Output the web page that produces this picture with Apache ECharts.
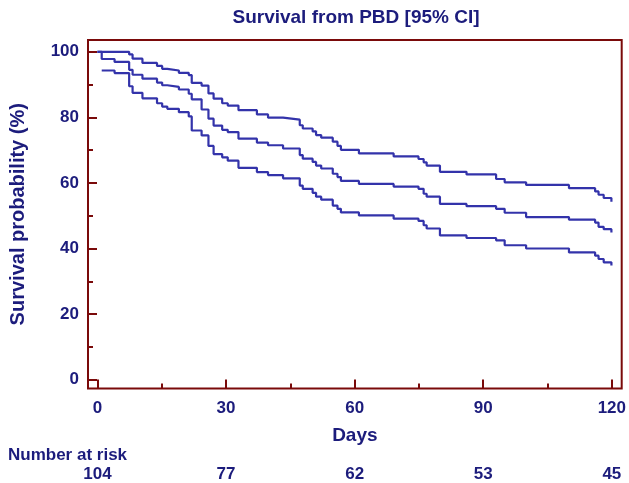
<!DOCTYPE html>
<html>
<head>
<meta charset="utf-8">
<script src="https://cdn.jsdelivr.net/npm/echarts@6/dist/echarts.min.js"></script>
<style>
html,body{margin:0;padding:0;background:#fff;}
#chart{width:629px;height:483px;}
</style>
</head>
<body>
<div id="chart"></div>
<script>
// ---- data ----
const days = [0, 1, 4, 7.4, 8.2, 10.5, 13.9, 15.1, 16.3, 19.0, 21.3, 22.0, 24.3, 25.9, 27.1, 29.1, 30.4, 32.9, 37.2, 39.8, 43.3, 47.2, 47.9, 50.2, 51.0, 52.2, 54.9, 56.0, 56.8, 61.0, 69.1, 74.9, 76.1, 76.8, 79.9, 86.1, 93.0, 95.0, 100.0, 110.0, 116.1, 116.9, 118.1, 119.9];
const upperCI = [100, 100, 100, 99.2, 97.9, 96.6, 95.7, 94.8, 94.3, 93.6, 92.9, 90.5, 89.7, 87.3, 85.7, 84.3, 83.6, 82.2, 80.9, 79.9, 79.3, 77.6, 76.6, 75.7, 74.6, 73.8, 72.6, 71.3, 70.1, 69.0, 68.1, 67.3, 66.3, 65.3, 63.4, 62.6, 61.2, 60.2, 59.4, 58.4, 57.4, 56.4, 55.4, 54.3];
const survival = [100, 97.8, 96.9, 94.5, 93.0, 91.8, 90.6, 89.8, 89.3, 88.5, 87.2, 85.5, 82.4, 79.6, 77.5, 76.2, 75.5, 73.5, 72.3, 71.5, 70.5, 68.5, 67.4, 66.4, 65.3, 64.4, 62.8, 61.8, 60.6, 59.7, 58.9, 58.2, 56.7, 55.8, 53.6, 52.9, 52.1, 50.9, 49.6, 48.8, 47.9, 46.6, 45.9, 44.9];
const lowerCI = [null, 94.3, 93.5, 89.5, 87.5, 85.8, 84.3, 83.3, 82.6, 81.6, 80.3, 76.0, 74.5, 71.3, 68.8, 67.8, 66.8, 64.6, 63.3, 62.4, 61.4, 59.2, 58.2, 57.0, 55.8, 54.9, 53.1, 52.1, 51.0, 50.1, 49.1, 48.4, 47.1, 46.1, 44.0, 43.2, 42.5, 41.0, 40.0, 38.8, 37.8, 36.8, 35.8, 34.8];
const xTicks = [0, 30, 60, 90, 120];
const xMinorTicks = [15, 45, 75, 105];
const yTicks = [0, 20, 40, 60, 80, 100];
const yMinorTicks = [10, 30, 50, 70, 90];
const riskDays = [0, 30, 60, 90, 120];
const riskCounts = [104, 77, 62, 53, 45];
const chartTitle = 'Survival from PBD [95% CI]';
const xName = 'Days';
const yName = 'Survival probability (%)';
const riskTitle = 'Number at risk';

// ---- styling ----
const navy = '#1c1c7c';
const frame = '#7a0a0a';
const lineColor = '#3333aa';
const font = "'Liberation Sans', Arial, sans-serif";
const xMin = -2.2, xMax = 122.3, yMin = -2.7, yMax = 103.6;

const pairs = (ys) => days.map((d, i) => [d, ys[i]]);
const lineSeries = (name, ys) => ({
  name, type: 'line', step: 'end', data: pairs(ys), showSymbol: false, symbol: 'none',
  connectNulls: false, silent: true, animation: false,
  lineStyle: { color: lineColor, width: 2.2 }
});

const labelStyle = { color: navy, fontSize: 17, fontWeight: 'bold', fontFamily: font };
const noLine = { show: false, onZero: false };

const chart = echarts.init(document.getElementById('chart'), null, { renderer: 'canvas' });
chart.setOption({
  animation: false,
  backgroundColor: '#fff',
  grid: { left: 87, right: 4, top: 40, bottom: 91, show: true, borderColor: frame, borderWidth: 2, backgroundColor: 'transparent' },
  xAxis: [
    {
      type: 'value', min: xMin, max: xMax, position: 'bottom',
      axisLine: noLine, splitLine: { show: false },
      axisTick: { show: true, customValues: xTicks, inside: true, length: 9, lineStyle: { color: frame, width: 2 } },
      axisLabel: Object.assign({ customValues: xTicks, margin: 11 }, labelStyle),
      name: xName, nameLocation: 'middle', nameGap: 38,
      nameTextStyle: { color: navy, fontSize: 19, fontWeight: 'bold', fontFamily: font }
    },
    {
      type: 'value', min: xMin, max: xMax, position: 'bottom',
      axisLine: noLine, splitLine: { show: false },
      axisTick: { show: true, customValues: xMinorTicks, inside: true, length: 5, lineStyle: { color: frame, width: 2 } },
      axisLabel: { show: false }
    },
    {
      type: 'value', min: xMin, max: xMax, position: 'bottom', offset: 86,
      axisLine: noLine, splitLine: { show: false }, axisTick: { show: false },
      axisLabel: Object.assign({
        customValues: riskDays, margin: 0, verticalAlign: 'middle',
        formatter: (v) => String(riskCounts[riskDays.indexOf(v)])
      }, labelStyle)
    }
  ],
  yAxis: [
    {
      type: 'value', min: yMin, max: yMax, position: 'left',
      axisLine: noLine, splitLine: { show: false },
      axisTick: { show: true, customValues: yTicks, inside: true, length: 9, lineStyle: { color: frame, width: 2 } },
      axisLabel: Object.assign({ customValues: yTicks, margin: 9 }, labelStyle),
      name: yName, nameLocation: 'middle', nameGap: 60, nameRotate: 90,
      nameTextStyle: { color: navy, fontSize: 20, fontWeight: 'bold', fontFamily: font }
    },
    {
      type: 'value', min: yMin, max: yMax, position: 'left',
      axisLine: noLine, splitLine: { show: false },
      axisTick: { show: true, customValues: yMinorTicks, inside: true, length: 5, lineStyle: { color: frame, width: 2 } },
      axisLabel: { show: false }
    }
  ],
  graphic: [
    { type: 'text', x: 356, y: 18, style: { text: chartTitle, fill: navy, font: "bold 19px " + font, textAlign: 'center', textVerticalAlign: 'middle' } },
    { type: 'text', x: 8, y: 455, style: { text: riskTitle, fill: navy, font: "bold 17px " + font, textAlign: 'left', textVerticalAlign: 'middle' } }
  ],
  series: [
    lineSeries('Upper 95% CI', upperCI),
    lineSeries('Survival', survival),
    lineSeries('Lower 95% CI', lowerCI)
  ]
});
</script>
</body>
</html>
